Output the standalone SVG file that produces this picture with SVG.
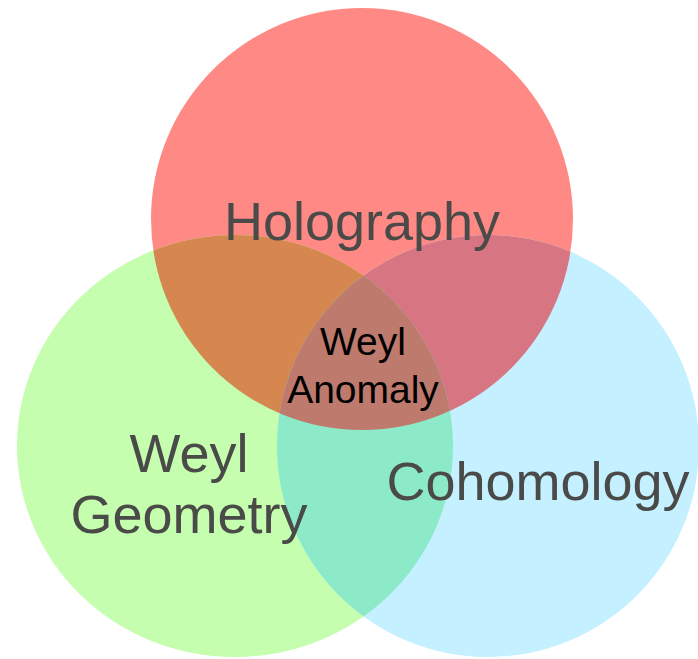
<svg xmlns="http://www.w3.org/2000/svg" width="698" height="659" viewBox="0 0 698 659">
  <defs>
    <clipPath id="cR"><circle cx="362" cy="219" r="211"/></clipPath>
    <clipPath id="cG"><ellipse cx="235" cy="446" rx="218" ry="211"/></clipPath>
    <clipPath id="cB"><circle cx="488" cy="446" r="211"/></clipPath>
  </defs>
  <style>
    .lbl { font-family: "Liberation Sans", Arial, sans-serif; font-size: 54px; fill: #4a4a48; text-anchor: middle; }
    .mid { font-family: "Liberation Sans", Arial, sans-serif; font-size: 39px; fill: #000000; text-anchor: middle; }
  </style>
  <rect width="698" height="659" fill="#ffffff"/>
  <g id="red">
    <circle cx="362" cy="219" r="211" fill="#ff8a85"/>
  </g>
  <g id="green">
    <ellipse cx="235" cy="446" rx="218" ry="211" fill="#c4feae"/>
  </g>
  <g id="blue">
    <circle cx="488" cy="446" r="211" fill="#c4f0ff"/>
  </g>
  <g id="overlaps">
    <circle cx="362" cy="219" r="211" fill="#d6874f" clip-path="url(#cG)"/>
    <circle cx="362" cy="219" r="211" fill="#d77582" clip-path="url(#cB)"/>
    <ellipse cx="235" cy="446" rx="218" ry="211" fill="#8deac8" clip-path="url(#cB)"/>
    <g clip-path="url(#cG)">
      <circle cx="362" cy="219" r="211" fill="#be7a6c" clip-path="url(#cB)"/>
    </g>
  </g>
  <g id="labels">
    <text class="lbl" x="362" y="240">Holography</text>
    <text class="lbl" x="189" y="472">Weyl</text>
    <text class="lbl" x="189" y="533">Geometry</text>
    <text class="lbl" x="538" y="500">Cohomology</text>
    <text class="mid" x="363" y="355">Weyl</text>
    <text class="mid" x="363" y="403">Anomaly</text>
  </g>
</svg>
